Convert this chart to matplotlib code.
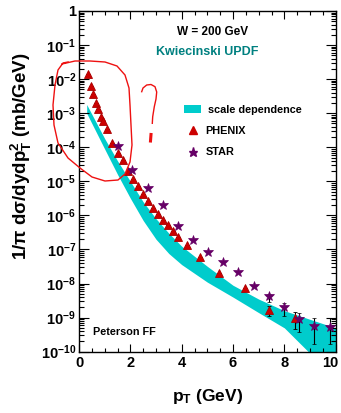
import matplotlib
matplotlib.use('Agg')
from matplotlib import pyplot as plt
from matplotlib.patches import Patch
from matplotlib.lines import Line2D
from matplotlib.transforms import ScaledTranslation
from matplotlib.ticker import FixedLocator, MultipleLocator, LogLocator, NullFormatter

plt.rcParams['font.family'] = ['Liberation Sans', 'DejaVu Sans']
plt.rcParams['mathtext.fontset'] = 'custom'
plt.rcParams['mathtext.rm'] = 'Liberation Sans'
plt.rcParams['mathtext.it'] = 'Liberation Sans:italic'
plt.rcParams['mathtext.bf'] = 'Liberation Sans:bold'

# PHENIX points (pT in GeV, cross section in mb/GeV^2)
phenix_pt = [0.36, 0.46, 0.56, 0.65, 0.75, 0.85, 0.95, 1.10, 1.30, 1.51, 1.71, 1.90, 2.10, 2.30,
             2.50, 2.67, 2.88, 3.07, 3.27, 3.46, 3.66, 3.85, 4.21, 4.70, 5.44, 6.45, 7.39, 8.40]
phenix_val = [1.4e-2, 6.5e-3, 3.6e-3, 1.95e-3, 1.3e-3, 7.9e-4, 5.9e-4, 3.4e-4, 1.3e-4, 6.8e-5,
              4.1e-5, 2.0e-5, 1.2e-5, 7.1e-6, 4.3e-6, 2.6e-6, 1.7e-6, 1.1e-6, 7.4e-7, 5.2e-7,
              3.5e-7, 2.4e-7, 1.4e-7, 6.0e-8, 2.1e-8, 7.4e-9, 1.7e-9, 9.8e-10]
phenix_err_lo = [0]*26 + [5.5e-10, 5.1e-10]
phenix_err_hi = [0]*26 + [5.0e-10, 5.2e-10]

# STAR points
star_pt = [1.50, 2.08, 2.67, 3.27, 3.86, 4.44, 5.04, 5.62, 6.21, 6.81, 7.40, 7.98, 8.58, 9.16, 9.76]
star_val = [1.1e-4, 2.1e-5, 6.5e-6, 2.0e-6, 5.0e-7, 1.95e-7, 8.7e-8, 4.2e-8, 2.2e-8, 8.3e-9,
            4.2e-9, 2.0e-9, 9.1e-10, 5.5e-10, 5.2e-10]
star_err_lo = [0]*10 + [1.25e-9, 8.5e-10, 5.4e-10, 3.8e-10, 3.5e-10]
star_err_hi = [0]*10 + [8.0e-10, 7.0e-10, 4.4e-10, 4.3e-10, 4.6e-10]

# theory band (scale dependence)
band_pt = [0.3, 1.0, 1.5, 2.0, 2.5, 3.0, 3.5, 4.0, 5.0, 6.0, 7.0, 8.0, 9.0, 10.0]
band_hi = [1.8e-3, 1.8e-4, 4.0e-5, 1.0e-5, 2.5e-6, 8.0e-7, 3.0e-7, 1.25e-7, 3.2e-8, 8.9e-9,
           3.5e-9, 1.6e-9, 8.9e-10, 5.0e-10]
band_lo = [1.0e-3, 8.9e-5, 1.6e-5, 3.2e-6, 7.1e-7, 2.0e-7, 7.6e-8, 3.6e-8, 1.1e-8, 4.0e-9,
           1.4e-9, 5.0e-10, 8.9e-11, 2.5e-11]

ytick_vals = [1e0, 1e-1, 1e-2, 1e-3, 1e-4, 1e-5, 1e-6, 1e-7, 1e-8, 1e-9, 1e-10]
ytick_labels = ['1'] + [r'$\mathbf{10^{-%d}}$' % i for i in range(1, 11)]
xtick_vals = [0, 2, 4, 6, 8, 10]

W, H = 341, 413
fig = plt.figure(figsize=(W/100, H/100), dpi=100)
ax = fig.add_axes([79/W, 1-351.7/H, (335.7-79)/W, (351.7-11)/H])

ax.fill_between(band_pt, band_lo, band_hi, color='#00CCCC', lw=0, zorder=1)
ax.errorbar(phenix_pt, phenix_val, yerr=[phenix_err_lo, phenix_err_hi], fmt='^', color='#CC0000',
            ms=6, mec='#AA0000', mew=0.6, ecolor='black', elinewidth=0.8, capsize=1.5, zorder=3)
ax.errorbar(star_pt, star_val, yerr=[star_err_lo, star_err_hi], fmt='*', color='#660066',
            ms=7.5, mec='#660066', mew=0.5, ecolor='black', elinewidth=0.8, capsize=1.5, zorder=4)

ax.set_yscale('log')
ax.set_xlim(0, 10)
ax.set_ylim(1e-10, 1)
ax.yaxis.set_major_locator(FixedLocator(ytick_vals))
ax.set_yticklabels(ytick_labels)
ax.yaxis.set_minor_locator(LogLocator(base=10, subs=range(2, 10), numticks=20))
ax.yaxis.set_minor_formatter(NullFormatter())
ax.set_xticks(xtick_vals)
ax.set_xticklabels([str(v) for v in xtick_vals])
ax.xaxis.set_minor_locator(MultipleLocator(0.5))
ax.tick_params(axis='both', which='both', direction='in', top=True, right=True, width=0.8)
ax.tick_params(axis='x', which='major', length=5.5, labelsize=10.5, pad=3)
ax.tick_params(axis='x', which='minor', length=2.8)
ax.tick_params(axis='y', which='major', length=7.3, labelsize=10.5, pad=2)
ax.tick_params(axis='y', which='minor', length=3.6)
for lab in ax.get_xticklabels() + ax.get_yticklabels():
    lab.set_fontweight('bold')
# last x label sits a bit inside, like the original
last = ax.get_xticklabels()[-1]
last.set_transform(last.get_transform() + ScaledTranslation(-4/72, 0, fig.dpi_scale_trans))
for s in ax.spines.values():
    s.set_linewidth(1.0)

ax.set_xlabel(r'$\mathbf{p_{T}}$ (GeV)', fontsize=12.5, fontweight='bold')
ax.xaxis.set_label_coords(0.5, -0.105)
ax.set_ylabel(r'$\mathbf{1/\pi\ d\sigma/dydp_{T}^{2}\ (mb/GeV)}$', fontsize=13.5)
ax.yaxis.set_label_coords(-0.175, 0.575)

ax.text(0.52, 0.938, 'W = 200 GeV', transform=ax.transAxes, ha='center', va='center',
        fontsize=8.5, fontweight='bold')
ax.text(0.50, 0.88, 'Kwiecinski UPDF', transform=ax.transAxes, ha='center', va='center',
        fontsize=9, fontweight='bold', color='#008080')
ax.text(0.053, 0.059, 'Peterson FF', transform=ax.transAxes, ha='left', va='center',
        fontsize=7.8, fontweight='bold')

handles = [Patch(facecolor='#00CCCC', edgecolor='none'),
           Line2D([], [], ls='none', marker='^', color='#CC0000', ms=5.5),
           Line2D([], [], ls='none', marker='*', color='#660066', ms=6.5)]
ax.legend(handles, [' scale dependence', 'PHENIX', 'STAR'], loc='upper left',
          bbox_to_anchor=(0.41, 0.725), frameon=False, prop={'size': 7.8, 'weight': 'bold'},
          handlelength=1.55, handletextpad=0.4, labelspacing=1.05, borderpad=0, borderaxespad=0)

# red hand-drawn mark on the original figure (pixel positions)
loop_px = [(62, 64), (75, 61), (90, 61), (105, 62), (117, 66), (125, 75), (129, 88), (130, 105),
           (131, 125), (132, 145), (130, 162), (125, 174), (118, 180), (105, 181), (92, 177),
           (80, 168), (68, 158), (58, 143), (54, 125), (53, 105), (55, 85), (58, 70), (63, 63), (68, 62)]
qmark_px = [(141.7, 91.7), (143, 88), (146.7, 85), (151, 84.5), (155, 86.7), (156.7, 92),
            (156, 99), (154.3, 106.7), (152.7, 116.7), (152.3, 123.3)]
dot_px = [(151, 134.5), (150.5, 141)]
for pts, lw in [(loop_px, 1.0), (qmark_px, 1.0), (dot_px, 2.2)]:
    fig.add_artist(Line2D([p[0]/W for p in pts], [1-p[1]/H for p in pts],
                          transform=fig.transFigure, color='#EE1111', lw=lw, zorder=10))

fig.savefig('out.png', dpi=100)
